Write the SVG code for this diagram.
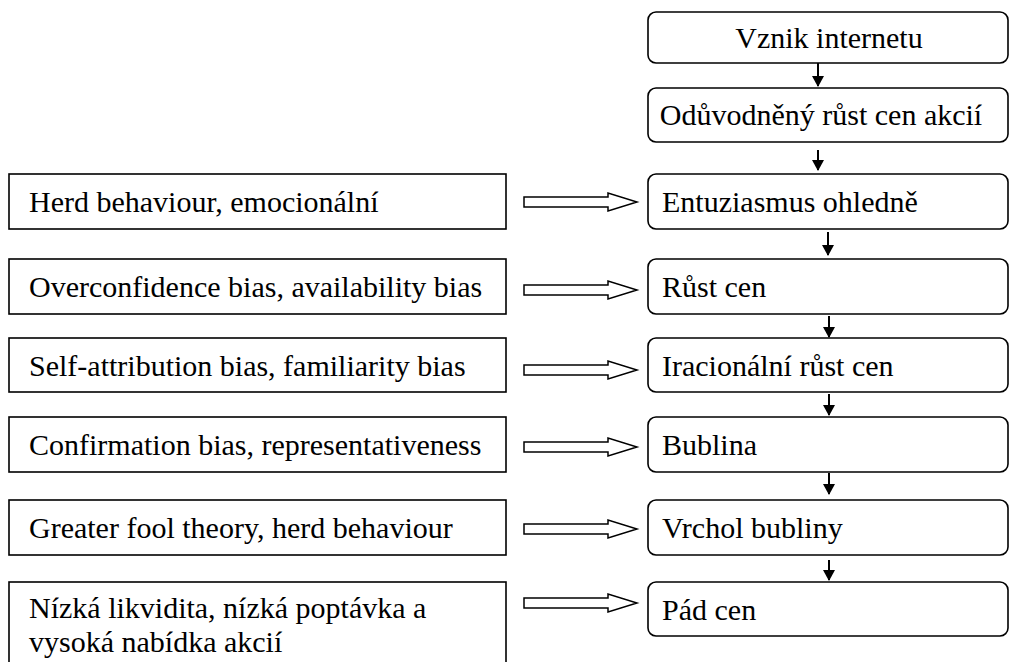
<svg xmlns="http://www.w3.org/2000/svg" width="1010" height="662" viewBox="0 0 1010 662">
<style>
.box{fill:#fff;stroke:#000;stroke-width:1.6}
.rbox{fill:#fff;stroke:#000;stroke-width:1.6}
text{font-family:"Liberation Serif","Times New Roman",serif;font-size:30px;fill:#000}
.c{text-anchor:middle}
.blk{fill:#fff;stroke:#000;stroke-width:1.5}
.dn{stroke:#000;stroke-width:2;fill:none}
</style>
<defs>
<marker id="tri" markerWidth="11" markerHeight="12" refX="10" refY="6" orient="auto" markerUnits="userSpaceOnUse" viewBox="0 0 11 12">
<path d="M0,0 L11,6 L0,12 Z" fill="#000"/>
</marker>
<path id="blk" d="M0,-5 H84 V-9 L113,0 L84,9 V5 H0 Z"/>
</defs>

<g id="n1"><rect class="rbox" x="648" y="12" width="360" height="51" rx="8"/><text class="c" x="829" y="48">Vznik internetu</text></g>
<g id="n2"><rect class="rbox" x="648" y="88" width="360" height="54" rx="8"/><text class="c" x="821" y="125">Odůvodněný růst cen akcií</text></g>
<g id="n3"><rect class="rbox" x="648" y="174" width="360" height="55" rx="8"/><text x="662" y="212">Entuziasmus ohledně</text></g>
<g id="n4"><rect class="rbox" x="648" y="259" width="360" height="55" rx="8"/><text x="662" y="297">Růst cen</text></g>
<g id="n5"><rect class="rbox" x="648" y="338" width="360" height="54" rx="8"/><text x="662" y="376">Iracionální růst cen</text></g>
<g id="n6"><rect class="rbox" x="648" y="417" width="360" height="55" rx="8"/><text x="662" y="455">Bublina</text></g>
<g id="n7"><rect class="rbox" x="648" y="500" width="360" height="55" rx="8"/><text x="662" y="538">Vrchol bubliny</text></g>
<g id="n8"><rect class="rbox" x="648" y="582" width="360" height="54" rx="8"/><text x="662" y="620">Pád cen</text></g>

<g id="l1"><rect class="box" x="9" y="174" width="497" height="55"/><text x="29" y="212">Herd behaviour, emocionální</text></g>
<g id="l2"><rect class="box" x="9" y="259" width="497" height="55"/><text x="29" y="297">Overconfidence bias, availability bias</text></g>
<g id="l3"><rect class="box" x="9" y="338" width="497" height="54"/><text x="29" y="376">Self-attribution bias, familiarity bias</text></g>
<g id="l4"><rect class="box" x="9" y="417" width="497" height="55"/><text x="29" y="455">Confirmation bias, representativeness</text></g>
<g id="l5"><rect class="box" x="9" y="500" width="497" height="55"/><text x="29" y="538">Greater fool theory, herd behaviour</text></g>
<g id="l6"><rect class="box" x="9" y="582" width="497" height="90"/><text x="29" y="618">Nízká likvidita, nízká poptávka a</text><text x="29" y="652">vysoká nabídka akcií</text></g>

<g id="connectors">
<g class="dn" marker-end="url(#tri)">
<line x1="818" y1="63" x2="818" y2="86"/>
<line x1="818" y1="150" x2="818" y2="170"/>
<line x1="828" y1="232" x2="828" y2="255"/>
<line x1="829" y1="316" x2="829" y2="337"/>
<line x1="829" y1="394" x2="829" y2="415"/>
<line x1="829" y1="473" x2="829" y2="494"/>
<line x1="829" y1="560" x2="829" y2="580"/>
</g>
<g class="blk">
<use href="#blk" transform="translate(524,202)"/>
<use href="#blk" transform="translate(524,290)"/>
<use href="#blk" transform="translate(524,370)"/>
<use href="#blk" transform="translate(524,447)"/>
<use href="#blk" transform="translate(524,529)"/>
<use href="#blk" transform="translate(524,603)"/>
</g>
</g>
</svg>
